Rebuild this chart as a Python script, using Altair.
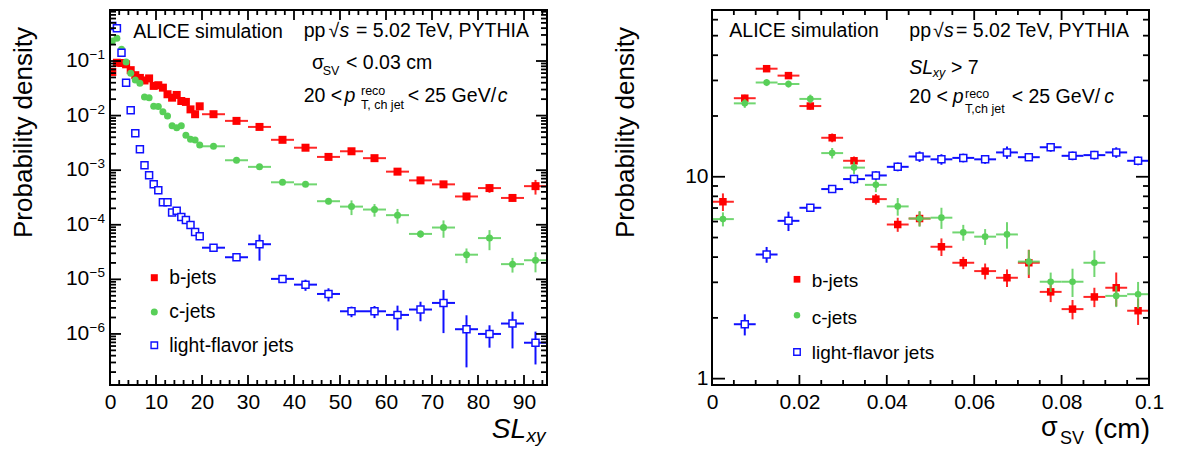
import altair as alt
import pandas as pd

# ---------------- left panel : SL_xy ----------------
sl_center = [0.5, 1.5, 2.5, 3.5, 4.5, 5.5, 6.5, 7.5, 8.5, 9.5,
             10.5, 11.5, 12.5, 13.5, 14.5, 15.5, 16.5, 17.5, 18.5, 19.5,
             22.5, 27.5, 32.5, 37.5, 42.5, 47.5, 52.5, 57.5, 62.5, 67.5,
             72.5, 77.5, 82.5, 87.5, 92.5]
sl_halfwidth = [0.5, 0.5, 0.5, 0.5, 0.5, 0.5, 0.5, 0.5, 0.5, 0.5,
                0.5, 0.5, 0.5, 0.5, 0.5, 0.5, 0.5, 0.5, 0.5, 0.5,
                2.5, 2.5, 2.5, 2.5, 2.5, 2.5, 2.5, 2.5, 2.5, 2.5,
                2.5, 2.5, 2.5, 2.5, 2.5]
b_sl = [0.063, 0.093, 0.092, 0.087, 0.068, 0.055, 0.049, 0.044, 0.048, 0.035,
        0.036, 0.0325, 0.0246, 0.0213, 0.0239, 0.0185, 0.0178, 0.0130, 0.0106, 0.0148,
        0.0106, 0.0080, 0.0062, 0.0036, 0.00258, 0.00175, 0.00222, 0.00166, 0.00094, 0.00065,
        0.00055, 0.00033, 0.00047, 0.00031, 0.00051]
b_sl_relerr = [0.01, 0.01, 0.01, 0.01, 0.01, 0.01, 0.01, 0.01, 0.01, 0.01,
               0.01, 0.01, 0.01, 0.01, 0.01, 0.01, 0.01, 0.01, 0.01, 0.01,
               0.03, 0.04, 0.05, 0.06, 0.07, 0.08, 0.08, 0.09, 0.12, 0.14,
               0.14, 0.16, 0.18, 0.14, 0.3]
c_sl = [0.232, 0.26, 0.164, 0.096, 0.0596, 0.0449, 0.0391, 0.0219, 0.0213, 0.0148,
        0.0146, 0.0118, 0.0098, 0.0065, 0.0060, 0.0065, 0.00436, 0.00368, 0.00357, 0.0029,
        0.00274, 0.00152, 0.00115, 0.0006, 0.00055, 0.00027, 0.000215, 0.00019, 0.00015, 6.8e-5,
        8.9e-5, 2.83e-5, 5.7e-5, 1.9e-5, 2.24e-5]
c_sl_relerr = [0.02, 0.02, 0.02, 0.02, 0.02, 0.02, 0.02, 0.02, 0.02, 0.02,
               0.02, 0.02, 0.02, 0.02, 0.03, 0.03, 0.03, 0.03, 0.03, 0.03,
               0.03, 0.04, 0.05, 0.06, 0.08, 0.12, 0.3, 0.26, 0.3, 0.15,
               0.35, 0.3, 0.4, 0.3, 0.4]
l_sl = [0.438, 0.397, 0.142, 0.040, 0.0125, 0.00474, 0.00242, 0.00123, 0.00081, 0.00055,
        0.00043, 0.000258, 0.000258, 0.000167, 0.000181, 0.000139, 0.000122, 9.9e-5, 7.4e-5, 6.15e-5,
        3.8e-5, 2.54e-5, 4.4e-5, 1.02e-5, 8.0e-6, 5.4e-6, 2.6e-6, 2.6e-6, 2.23e-6, 2.8e-6,
        3.7e-6, 1.22e-6, 1.0e-6, 1.55e-6, 6.9e-7]
l_sl_relerr = [0.01, 0.01, 0.01, 0.01, 0.01, 0.03, 0.03, 0.03, 0.03, 0.03,
               0.05, 0.06, 0.06, 0.07, 0.07, 0.08, 0.08, 0.09, 0.1, 0.1,
               0.06, 0.08, 0.5, 0.1, 0.23, 0.27, 0.22, 0.25, 0.48, 0.39,
               0.72, 0.8, 0.44, 0.65, 0.6]

# ---------------- right panel : sigma_SV ----------------
sv_center = [0.0025, 0.0075, 0.0125, 0.0175, 0.0225, 0.0275, 0.0325, 0.0375, 0.0425, 0.0475,
             0.0525, 0.0575, 0.0625, 0.0675, 0.0725, 0.0775, 0.0825, 0.0875, 0.0925, 0.0975]
sv_halfwidth = [0.0025] * 20
b_sv = [7.52, 24.5, 34.3, 31.7, 22.4, 15.6, 12.0, 7.75, 5.8, 6.21,
        4.5, 3.75, 3.41, 3.16, 3.75, 2.69, 2.21, 2.54, 2.82, 2.17]
b_sv_relerr = [0.1, 0.04, 0.03, 0.03, 0.04, 0.05, 0.05, 0.06, 0.08, 0.08,
               0.1, 0.07, 0.09, 0.1, 0.16, 0.11, 0.11, 0.11, 0.19, 0.15]
c_sv = [6.17, 23.1, 29.3, 28.8, 24.3, 13.1, 11.1, 9.12, 7.13, 6.21,
        6.27, 5.3, 5.05, 5.18, 3.8, 3.02, 3.02, 3.75, 2.57, 2.62]
c_sv_relerr = [0.08, 0.05, 0.04, 0.04, 0.05, 0.06, 0.07, 0.08, 0.1, 0.09,
               0.12, 0.09, 0.09, 0.15, 0.14, 0.11, 0.16, 0.15, 0.12, 0.15]
l_sv_center = [0.0075, 0.0125, 0.0175, 0.0225, 0.0275, 0.0325, 0.0375, 0.0425, 0.0475,
               0.0525, 0.0575, 0.0625, 0.0675, 0.0725, 0.0775, 0.0825, 0.0875, 0.0925, 0.0975]
l_sv_halfwidth = [0.0025] * 19
l_sv = [1.86, 4.12, 6.05, 7.02, 8.69, 9.74, 10.15, 11.2, 12.6,
        12.2, 12.4, 12.2, 13.2, 12.5, 14.0, 12.7, 12.8, 13.2, 12.0]
l_sv_relerr = [0.12, 0.09, 0.11, 0.04, 0.04, 0.05, 0.05, 0.05, 0.06,
               0.06, 0.05, 0.05, 0.07, 0.04, 0.05, 0.05, 0.05, 0.06, 0.05]

# axis ticks / labels
sl_major = [0, 10, 20, 30, 40, 50, 60, 70, 80, 90]
sl_minor = [v for v in range(2, 95, 2) if v % 10 != 0]
dens_decades = [1e-6, 1e-5, 1e-4, 1e-3, 1e-2, 1e-1]
dens_exponents = ["\u22126", "\u22125", "\u22124", "\u22123", "\u22122", "\u22121"]
dens_minor = [k * 10.0 ** e for e in range(-7, 0) for k in range(2, 10) if 1.16e-7 <= k * 10.0 ** e <= 0.86]
sv_major = [0, 0.02, 0.04, 0.06, 0.08, 0.1]
sv_minor = [0.005, 0.01, 0.015, 0.025, 0.03, 0.035, 0.045, 0.05, 0.055,
            0.065, 0.07, 0.075, 0.085, 0.09, 0.095]
pr_major = [1, 10]
pr_minor = [2, 3, 4, 5, 6, 7, 8, 9, 20, 30, 40, 50, 60]

RED = "#ff0000"
GREEN = "#58cf58"
BLUE = "#1010ff"
FONT = "Liberation Sans"
W, H = 437, 375
one = pd.DataFrame({"k": [0]})


def make_df(xc, hw, y, rel):
    return pd.DataFrame({
        "x": xc,
        "xlo": [a - h for a, h in zip(xc, hw)],
        "xhi": [a + h for a, h in zip(xc, hw)],
        "y": y,
        "ylo": [v * (1 - e) for v, e in zip(y, rel)],
        "yhi": [v * (1 + e) for v, e in zip(y, rel)],
    })


def txt(s, x, y, size=19.5, italic=False, align="left", angle=0, baseline="alphabetic"):
    kw = dict(text=s, fontSize=size, font=FONT, align=align, baseline=baseline, color="black",
              fontStyle="italic" if italic else "normal")
    if angle:
        kw["angle"] = angle
    return alt.Chart(one).mark_text(**kw).encode(x=alt.value(x), y=alt.value(y))


def marker(kind, x, y, size):
    if kind == "b":
        m = alt.Chart(one).mark_square(color=RED, size=size, opacity=1)
    elif kind == "c":
        m = alt.Chart(one).mark_circle(color=GREEN, size=size, opacity=1)
    else:
        m = alt.Chart(one).mark_point(shape="square", filled=True, fill="white", stroke=BLUE,
                                      strokeWidth=1.4, size=size, opacity=1)
    return m.encode(x=alt.value(x), y=alt.value(y))


def frame():
    return alt.Chart(one).mark_rect(filled=False, stroke="black", strokeWidth=2, fill="transparent",
                                    opacity=1, strokeOpacity=1).encode(
        x=alt.value(0), x2=alt.value(W), y=alt.value(0), y2=alt.value(H))


def make_panel(xscale, yscale, xaxis, yaxis, series, xmaj, xmin, ymaj, ymin, ytick_major_len, msize):
    def X(f):
        return alt.X(f, type="quantitative", scale=xscale, axis=xaxis)

    def Y(f):
        return alt.Y(f, type="quantitative", scale=yscale, axis=yaxis)

    layers = []
    for df, kind in series:
        base = alt.Chart(df)
        col = {"b": RED, "c": GREEN, "l": BLUE}[kind]
        op = 1 if kind == "l" else 0.85
        layers.append(base.mark_rule(color=col, strokeWidth=2, opacity=op, clip=True)
                      .encode(x=X("xlo"), x2=alt.X2("xhi"), y=Y("y")))
        layers.append(base.mark_rule(color=col, strokeWidth=2, opacity=op, clip=True)
                      .encode(x=X("x"), y=Y("ylo"), y2=alt.Y2("yhi")))
        if kind == "b":
            pts = base.mark_square(color=RED, size=msize["b"], opacity=1, clip=True)
        elif kind == "c":
            pts = base.mark_circle(color=GREEN, size=msize["c"], opacity=1, clip=True)
        else:
            pts = base.mark_point(shape="square", filled=True, fill="white", stroke=BLUE,
                                  strokeWidth=1.5, size=msize["l"], opacity=1, clip=True)
        layers.append(pts.encode(x=X("x"), y=Y("y")))

    # inward ticks on all four sides
    for vals, L in ((xmaj, 10), (xmin, 5)):
        d = pd.DataFrame({"v": vals})
        layers.append(alt.Chart(d).mark_rule(color="black", strokeWidth=1.8, opacity=1)
                      .encode(x=X("v"), y=alt.value(H), y2=alt.value(H - L)))
        layers.append(alt.Chart(d).mark_rule(color="black", strokeWidth=1.8, opacity=1)
                      .encode(x=X("v"), y=alt.value(0), y2=alt.value(L)))
    for vals, L in ((ymaj, ytick_major_len), (ymin, 6)):
        d = pd.DataFrame({"v": vals})
        layers.append(alt.Chart(d).mark_rule(color="black", strokeWidth=1.8, opacity=1)
                      .encode(y=Y("v"), x=alt.value(0), x2=alt.value(L)))
        layers.append(alt.Chart(d).mark_rule(color="black", strokeWidth=1.8, opacity=1)
                      .encode(y=Y("v"), x=alt.value(W), x2=alt.value(W - L)))
    layers.append(frame())
    return layers, Y


def x_axis(values, expr):
    return alt.Axis(values=values, labelExpr=expr, labelFont=FONT, labelFontSize=21, labelColor="black",
                    labelPadding=6, ticks=False, tickSize=0, domain=False, grid=False,
                    labelFlush=False, labelOverlap=False, title=None)


# ---------------- left panel ----------------
left_series = [(make_df(sl_center, sl_halfwidth, b_sl, b_sl_relerr), "b"),
               (make_df(sl_center, sl_halfwidth, c_sl, c_sl_relerr), "c"),
               (make_df(sl_center, sl_halfwidth, l_sl, l_sl_relerr), "l")]
left_layers, Yl = make_panel(
    alt.Scale(domain=[0, 95], nice=False, zero=False),
    alt.Scale(type="log", domain=[1.16e-7, 0.86], nice=False),
    x_axis(sl_major, "format(datum.value, 'd')"), None, left_series,
    sl_major, sl_minor, dens_decades, dens_minor, 11,
    {"b": 64, "c": 49, "l": 49})

lab = pd.DataFrame({"v": dens_decades, "e": dens_exponents})
left_layers.append(alt.Chart(lab).mark_text(text="10", font=FONT, fontSize=21, align="right",
                                             baseline="middle", color="black")
                   .encode(y=Yl("v"), x=alt.value(-20.7)))
left_layers.append(alt.Chart(lab).mark_text(font=FONT, fontSize=13.5, align="left",
                                             baseline="middle", dy=-6, color="black")
                   .encode(y=Yl("v"), x=alt.value(-20.5), text="e:N"))
left_layers += [
    # invisible anchor: fixes the page position of the plot frame
    alt.Chart(one).mark_rule(opacity=0).encode(x=alt.value(-109), y=alt.value(-9), y2=alt.value(0)),
    txt("Probability density", -78, 17, size=26, align="right", angle=270),
    txt("SL", W - 21, H + 53.3, size=28, italic=True, align="right"),
    txt("xy", W - 20.5, H + 56.7, size=19, italic=True),
    txt("ALICE simulation", 23.3, 28),
    txt("pp", 193.7, 26.5), txt("\u221a", 218.5, 26.5), txt("s", 229.5, 26.5, italic=True),
    txt("= 5.02 TeV, PYTHIA", 246, 26.5),
    txt("\u03c3", 202, 59.3), txt("SV", 212.7, 65, size=12.5), txt("< 0.03 cm", 236, 59.3),
    txt("20 <", 193.7, 91.7), txt("p", 234.5, 91.7, italic=True),
    txt("reco", 251, 85.3, size=12.5), txt("T, ch jet", 251, 99.3, size=12.5),
    txt("< 25 GeV/", 297.7, 91.7), txt("c", 387.7, 91.7, italic=True),
    marker("b", 44.3, 267.7, 49), txt("b-jets", 59.3, 274.3, size=19.3),
    marker("c", 44.3, 302, 49), txt("c-jets", 59.3, 308.3, size=19.3),
    marker("l", 44.3, 335.3, 42), txt("light-flavor jets", 59.3, 341.7, size=19.3),
]
left = alt.layer(*left_layers).properties(width=W, height=H)

# ---------------- right panel ----------------
right_series = [(make_df(sv_center, sv_halfwidth, b_sv, b_sv_relerr), "b"),
                (make_df(sv_center, sv_halfwidth, c_sv, c_sv_relerr), "c"),
                (make_df(l_sv_center, l_sv_halfwidth, l_sv, l_sv_relerr), "l")]
right_yaxis = alt.Axis(values=pr_major, labelExpr="format(datum.value, 'd')", labelFont=FONT,
                       labelFontSize=21, labelColor="black",
                       labelPadding=4, ticks=False, tickSize=0, domain=False, grid=False,
                       labelFlush=False, labelOverlap=False, title=None)
right_layers, Yr = make_panel(
    alt.Scale(domain=[0, 0.1], nice=False, zero=False),
    alt.Scale(type="log", domain=[0.93, 67], nice=False),
    x_axis(sv_major, "datum.value == 0 ? '0' : format(datum.value, '.2~f')"), right_yaxis, right_series,
    sv_major, sv_minor, pr_major, pr_minor, 13,
    {"b": 56, "c": 44, "l": 49})
right_layers += [
    txt("Probability density", -78, 17, size=26, align="right", angle=270),
    txt("\u03c3", W - 91.3, H + 51, size=27, align="right"),
    txt("SV", W - 65, H + 59.3, size=18, align="right"),
    txt("(cm)", W + 1, H + 53.3, size=28, align="right"),
    txt("ALICE simulation", 17.3, 27),
    txt("pp", 197.3, 27), txt("\u221a", 221, 27), txt("s", 232, 27, italic=True),
    txt("= 5.02 TeV, PYTHIA", 244, 27),
    txt("SL", 197.3, 63.7, italic=True), txt("xy", 220.7, 67, size=12.5, italic=True),
    txt("> 7", 239, 63.7),
    txt("20 <", 197.3, 92.7), txt("p", 240.7, 92.7, italic=True),
    txt("reco", 253, 87.7, size=12.5), txt("T,ch jet", 253, 102.7, size=12.5),
    txt("< 25 GeV/", 299.7, 92.7), txt("c", 392.3, 92.7, italic=True),
    marker("b", 85, 269.3, 45), txt("b-jets", 99.7, 277, size=19),
    marker("c", 85, 305.3, 42), txt("c-jets", 99.7, 313.7, size=19),
    marker("l", 85, 342, 42), txt("light-flavor jets", 99.7, 349.3, size=19),
]
right = alt.layer(*right_layers).properties(width=W, height=H)

chart = alt.HConcatChart(hconcat=[left, right], spacing=165, bounds="flush").properties(
    padding={"left": 0, "top": 0, "right": 4, "bottom": 2}
).configure_view(stroke="transparent", fill="white").configure(background="white")

chart.save("out.html", embed_options={"renderer": "svg", "actions": False})
